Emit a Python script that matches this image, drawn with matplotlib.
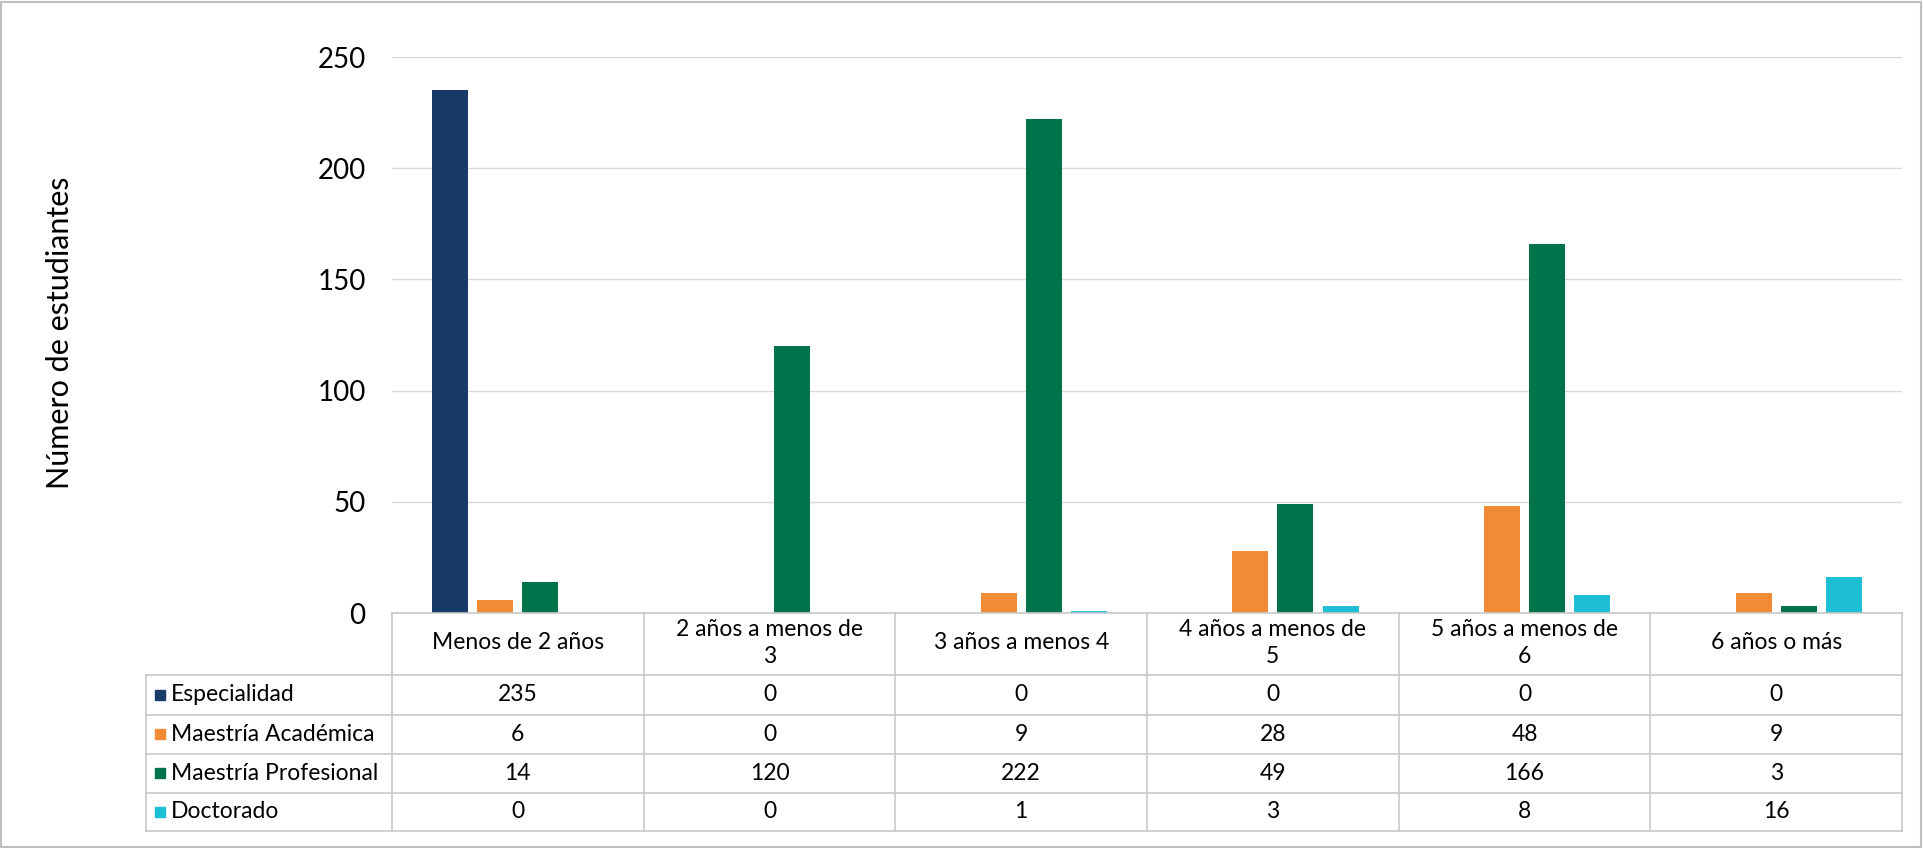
import matplotlib
matplotlib.use("Agg")
import matplotlib.pyplot as plt
import numpy as np
from matplotlib.patches import Rectangle

plt.rcParams['font.family'] = ['Lato', 'DejaVu Sans']

# data
categories = ['Menos de 2 años', '2 años a menos de\n3', '3 años a menos 4',
              '4 años a menos de\n5', '5 años a menos de\n6', '6 años o más']
series_names = ['Especialidad', 'Maestría Académica', 'Maestría Profesional', 'Doctorado']
especialidad = [235, 0, 0, 0, 0, 0]
maestria_academica = [6, 0, 9, 28, 48, 9]
maestria_profesional = [14, 120, 222, 49, 166, 3]
doctorado = [0, 0, 1, 3, 8, 16]
yticks = [0, 50, 100, 150, 200, 250]

series = [especialidad, maestria_academica, maestria_profesional, doctorado]
colors = ['#173B66', '#F28B35', '#00734A', '#1DBFD4']

W, H = 1923, 848
fig = plt.figure(figsize=(W / 100, H / 100), dpi=100)

# plot area in pixels
left, right, top, zero = 392, 1902, 57, 613
ax = fig.add_axes([left / W, 1 - zero / H, (right - left) / W, (zero - top) / H])

x = np.arange(len(categories))
step, bw = 0.18, 0.143
for k, (vals, c) in enumerate(zip(series, colors)):
    ax.bar(x + (k - 1.5) * step, vals, width=bw, color=c, zorder=3)

ax.set_xlim(-0.5, len(categories) - 0.5)
ax.set_ylim(0, 250)
ax.set_yticks(yticks)
ax.set_xticks([])
ax.grid(axis='y', color='#D9D9D9', lw=1.0, zorder=0)
for s in ax.spines.values():
    s.set_visible(False)
ax.tick_params(axis='y', length=0, pad=19, labelsize=20)

fig.text(60 / W, 1 - 333 / H, 'Número de estudiantes', rotation=90,
         ha='center', va='center', fontsize=22)

# data table under the chart
tleft, tbottom = 146, 831
unit = (right - left) / len(categories)
x_lo = -0.5 - (left - tleft) / unit
axt = fig.add_axes([tleft / W, 1 - tbottom / H, (right - tleft) / W, (tbottom - zero) / H])
axt.set_xlim(x_lo, len(categories) - 0.5)
axt.set_ylim(tbottom, zero)
axt.axis('off')

rows = [613, 675, 715, 754, 793, 831]
lc = '#C8C8C8'
axt.plot([-0.5, len(categories) - 0.5], [rows[0], rows[0]], color=lc, lw=1.2, clip_on=False)
for yy in rows[1:]:
    axt.plot([x_lo, len(categories) - 0.5], [yy, yy], color=lc, lw=1.2, clip_on=False)
axt.plot([x_lo, x_lo], [rows[1], rows[-1]], color=lc, lw=1.2, clip_on=False)
for xx in np.arange(len(categories) + 1) - 0.5:
    axt.plot([xx, xx], [rows[0], rows[-1]], color=lc, lw=1.2, clip_on=False)

for i, cat in enumerate(categories):
    axt.text(i, (rows[0] + rows[1]) / 2 - 1, cat, ha='center', va='center',
             fontsize=16.5, linespacing=1.3)

for r, (name, vals, c) in enumerate(zip(series_names, series, colors)):
    yc = (rows[r + 1] + rows[r + 2]) / 2
    axt.plot([x_lo + 14 / unit], [yc], marker='s', ms=7.5, color=c, clip_on=False)
    axt.text(x_lo + 25 / unit, yc, name, ha='left', va='center', fontsize=16.5)
    for i, v in enumerate(vals):
        axt.text(i, yc, str(v), ha='center', va='center', fontsize=16.5)

fig.patches.append(Rectangle((1 / W, 1 / H), 1 - 3 / W, 1 - 3 / H, transform=fig.transFigure,
                             fill=False, edgecolor='#BFBFBF', lw=1.5))

fig.savefig('out.png', dpi=100)
